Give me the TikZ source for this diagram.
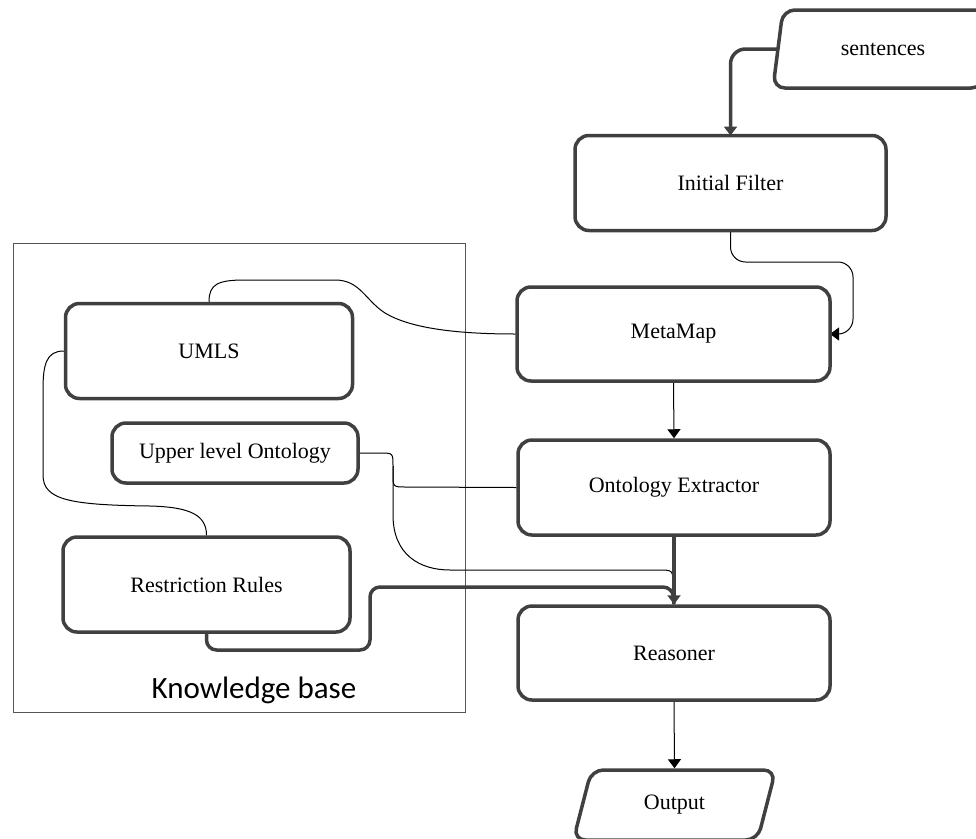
\documentclass[tikz,border=0pt]{standalone}
\usepackage{fontspec}
\setmainfont{Liberation Serif}
\newfontfamily\kbfont{Carlito}
\usetikzlibrary{arrows.meta,shapes.geometric}
\definecolor{bd}{HTML}{404040}
\definecolor{fr}{HTML}{555555}
\begin{document}
\begin{tikzpicture}[x=1pt,y=-1pt,
  box/.style={draw=bd,line width=3.5pt,rounded corners=14pt,fill=white,inner sep=0pt,font=\fontsize{22}{26}\selectfont},
  para/.style={trapezium,trapezium stretches=true,draw=bd,line width=3.5pt,rounded corners=12pt,fill=white,inner sep=0pt,font=\fontsize{22}{26}\selectfont},
  slim/.style={draw=black,line width=1pt},
  fat/.style={draw=bd,line width=3.5pt},
  arr/.style={-{Triangle[width=13pt,length=9pt]}},
  frame/.style={draw=fr,line width=1pt,inner sep=0pt}]
\useasboundingbox (0,0) rectangle (976,838);

% knowledge base frame
\node[frame,minimum width=452pt,minimum height=469pt] (kb) at (239,477.5) {};
\node[font=\kbfont\fontsize{31}{36}\selectfont,inner sep=0pt] (kbl) at (254,690) {Knowledge base};

% connectors (drawn below the boxes)
\draw[fat,arr,rounded corners=15pt] (879,49) ++(-94,0) coordinate (sentw) -| (730.5,135.5);
\draw[slim,arr,rounded corners=15pt] (730.5,230.5) |- (853,262) -- (853,334) -- (830,334);

% nodes
\node[para,trapezium left angle=71.6,trapezium right angle=108.4,minimum width=222pt,minimum height=78pt] (sent) at (883,49) {sentences};
\node[box,minimum width=311pt,minimum height=95pt] (initf) at (730.5,183) {Initial Filter};
\node[box,minimum width=313pt,minimum height=94pt] (mm) at (673.5,334) {MetaMap};
\node[box,minimum width=312pt,minimum height=95pt] (oe) at (674,487.5) {Ontology Extractor};
\node[box,minimum width=312pt,minimum height=94pt] (rs) at (674,653) {Reasoner};
\node[para,trapezium left angle=71,trapezium right angle=109,minimum width=203pt,minimum height=70pt] (out) at (674.5,805) {Output};
\node[box,minimum width=287pt,minimum height=95pt] (umls) at (209,351) {UMLS};
\node[box,minimum width=246pt,minimum height=60pt] (ulo) at (235,453) {Upper level Ontology};
\node[box,minimum width=287pt,minimum height=95pt] (rr) at (206.5,584.5) {Restriction Rules};

% connectors between named nodes
\draw[slim,arr] (mm.south) -- (oe.north);
\draw[slim,arr] (rs.south) -- (out.north);

\draw[slim] (umls.north) .. controls (209,284) and (218,280) .. (245,280) -- (335,280)
  .. controls (360,280) and (365,300) .. (385,313) .. controls (410,328) and (455,334) .. (mm.west);
\draw[slim] (umls.west) .. controls (46,351) and (43,365) .. (43,390) -- (43,475)
  .. controls (43,500) and (70,505) .. (150,506) .. controls (190,507) and (206.5,515) .. (rr.north);

\draw[slim] (ulo.east) -- (380,453) .. controls (393,453) .. (393,466) -- (393,474)
  .. controls (393,487) .. (406,487) -- (oe.west);
\draw[slim] (393,466) -- (393,515) .. controls (393,555) and (420,570) .. (450,570) -- (658,570)
  .. controls (673,570) .. (673,585) -- (rs.north);
\draw[fat,rounded corners=10pt] (rr.south) -- (206.5,650) -- (370,650) -- (370,587) -- (673,587) -- (rs.north);
\draw[fat,arr] (oe.south) -- (rs.north);
\end{tikzpicture}
\end{document}
